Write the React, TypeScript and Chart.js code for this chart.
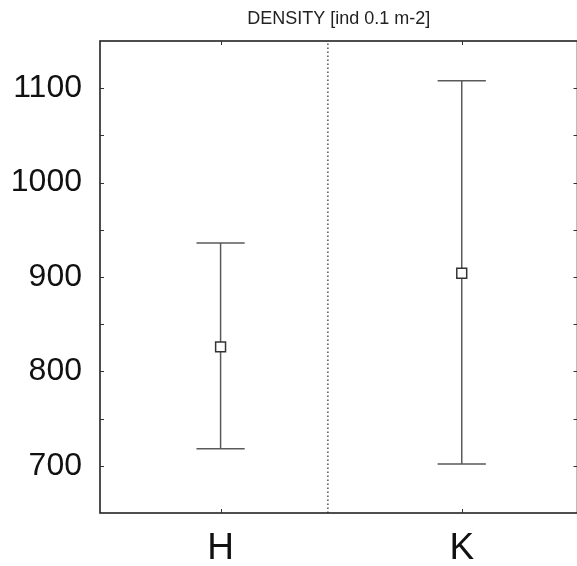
import React, { useEffect, useRef } from "react";
import { Chart, registerables } from "chart.js";

Chart.register(...registerables);

const TITLE = "DENSITY [ind 0.1 m-2]";
const categories = ["H", "K"];
const meanValues = [826, 904];
const upperValues = [936, 1108];
const lowerValues = [718, 702];
const yMin = 650;
const yMax = 1150;
const yStep = 50;
const yLabelStep = 100;
const dividerValue = 1.445;

const FONT = "'Liberation Sans', Arial, sans-serif";
const CANVAS_W = 586;

export default function App() {
  const ref = useRef<HTMLCanvasElement | null>(null);

  useEffect(() => {
    document.body.style.margin = "0";
    document.documentElement.style.overflow = "hidden";
    document.body.style.overflow = "hidden";
    const canvas = ref.current!;

    const framePlugin = {
      id: "frame",
      beforeDatasetsDraw(chart: any) {
        const ctx = chart.ctx;
        const x = chart.scales.x;
        const y = chart.scales.y;
        ctx.save();
        ctx.strokeStyle = "#5a5a5a";
        ctx.lineWidth = 1.5;
        const capHalf = 0.1;
        categories.forEach((_, i) => {
          const cx = x.getPixelForValue(i + 1);
          const yu = y.getPixelForValue(upperValues[i]);
          const yl = y.getPixelForValue(lowerValues[i]);
          const xl = x.getPixelForValue(i + 1 - capHalf);
          const xr = x.getPixelForValue(i + 1 + capHalf);
          ctx.beginPath();
          ctx.moveTo(cx, yu);
          ctx.lineTo(cx, yl);
          ctx.moveTo(xl, yu);
          ctx.lineTo(xr, yu);
          ctx.moveTo(xl, yl);
          ctx.lineTo(xr, yl);
          ctx.stroke();
        });
        ctx.restore();
      },
      afterDraw(chart: any) {
        const ctx = chart.ctx;
        const a = chart.chartArea;
        const x = chart.scales.x;
        const y = chart.scales.y;
        ctx.save();
        ctx.strokeStyle = "#222";
        ctx.lineWidth = 1.6;
        ctx.strokeRect(a.left, a.top, a.right - a.left, a.bottom - a.top);
        ctx.lineWidth = 1;
        ctx.strokeStyle = "#333";
        ctx.beginPath();
        y.ticks.forEach((t: any) => {
          if (t.value <= yMin || t.value >= yMax) return;
          const py = Math.round(y.getPixelForValue(t.value)) + 0.5;
          ctx.moveTo(a.left, py);
          ctx.lineTo(a.left + 4, py);
          ctx.moveTo(a.right, py);
          ctx.lineTo(a.right - 4, py);
        });
        categories.forEach((_, i) => {
          const px = Math.round(x.getPixelForValue(i + 1)) + 0.5;
          ctx.moveTo(px, a.bottom);
          ctx.lineTo(px, a.bottom - 4);
          ctx.moveTo(px, a.top);
          ctx.lineTo(px, a.top + 4);
        });
        ctx.stroke();
        ctx.fillStyle = "#222";
        ctx.font = `18px ${FONT}`;
        ctx.textAlign = "center";
        ctx.textBaseline = "middle";
        ctx.fillText(TITLE, (a.left + a.right) / 2, 19);
        ctx.restore();
      },
    };

    const chart = new Chart(canvas, {
      type: "scatter",
      data: {
        datasets: [
          {
            type: "line",
            data: [
              { x: dividerValue, y: yMin },
              { x: dividerValue, y: yMax },
            ],
            borderColor: "#555",
            borderWidth: 1.5,
            borderDash: [1.5, 2.5],
            pointRadius: 0,
            fill: false,
          } as any,
          {
            data: categories.map((_, i) => ({ x: i + 1, y: meanValues[i] })),
            pointStyle: "rect",
            pointRadius: 7,
            backgroundColor: "#ffffff",
            borderColor: "#333",
            borderWidth: 1.5,
          },
        ],
      },
      options: {
        animation: false,
        responsive: false,
        events: [],
        layout: { padding: { top: 41, right: 0, left: 0, bottom: 0 } },
        plugins: {
          legend: { display: false },
          tooltip: { enabled: false },
          title: { display: false },
        },
        scales: {
          x: {
            type: "linear",
            min: 0.5,
            max: 2.48,
            afterBuildTicks: (s: any) => {
              s.ticks = categories.map((_, i) => ({ value: i + 1 }));
            },
            afterFit: (s: any) => {
              s.height = 53;
            },
            ticks: {
              callback: (v: any) => categories[Number(v) - 1] ?? "",
              font: { family: FONT, size: 37 },
              color: "#111",
              padding: 14,
              autoSkip: false,
              maxRotation: 0,
            },
            grid: { display: false, drawTicks: false },
            border: { display: false },
          },
          y: {
            min: yMin,
            max: yMax,
            afterFit: (s: any) => {
              s.width = 100;
            },
            ticks: {
              stepSize: yStep,
              callback: (v: any) => (Number(v) % yLabelStep === 0 ? String(v) : ""),
              font: { family: FONT, size: 32 },
              color: "#111",
              padding: 18,
            },
            grid: { display: false, drawTicks: false },
            border: { display: false },
          },
        },
      },
      plugins: [framePlugin],
    } as any);

    return () => chart.destroy();
  }, []);

  return (
    <div style={{ width: CANVAS_W, height: 566, background: "#fff" }}>
      <canvas ref={ref} width={CANVAS_W} height={566} />
    </div>
  );
}
